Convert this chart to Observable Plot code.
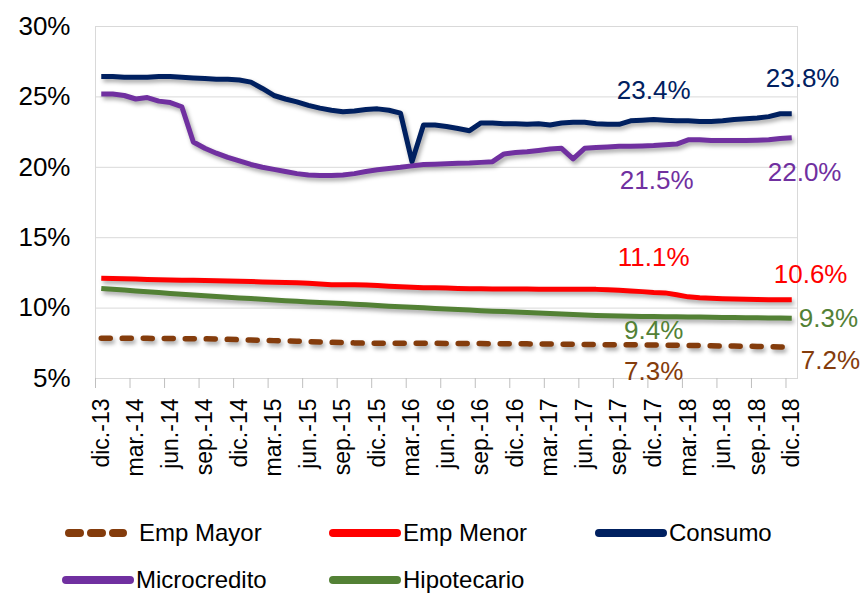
<!DOCTYPE html>
<html><head><meta charset="utf-8">
<script src="https://cdn.jsdelivr.net/npm/d3@7"></script>
<script src="https://cdn.jsdelivr.net/npm/@observablehq/plot@0.6"></script>
<style>
body{margin:0;background:#fff;font-family:"Liberation Sans",Arial,sans-serif;}
#wrap{position:relative;width:862px;height:595px;overflow:hidden;}
.shadow{filter:drop-shadow(2px 3px 2px rgba(0,0,0,0.35));}
#legend{position:absolute;left:65px;top:509px;display:grid;grid-template-columns:267px 266px auto;}
.item{display:flex;align-items:center;height:47px;font-size:24px;color:#000;}
.item svg{margin-right:5px;overflow:visible}
</style></head><body><div id="wrap"><div id="chart"></div><div id="legend"></div></div>
<script>
// Category tick labels (every 3 months, dic.-13 .. dic.-18)
const tickLabels = ["dic.-13","mar.-14","jun.-14","sep.-14","dic.-14","mar.-15","jun.-15","sep.-15","dic.-15","mar.-16","jun.-16","sep.-16","dic.-16","mar.-17","jun.-17","sep.-17","dic.-17","mar.-18","jun.-18","sep.-18","dic.-18"];
const yTicks = [5,10,15,20,25,30];

const seriesNames = ["Emp Mayor","Emp Menor","Consumo","Microcredito","Hipotecario"];
const seriesColors = ["#843C0C","#FF0000","#002060","#7030A0","#538135"];

// Monthly values (%), dic.-13 .. dic.-18 (61 months)
const empMayor = [7.86,7.86,7.85,7.85,7.85,7.84,7.84,7.83,7.83,7.82,7.80,7.78,7.76,7.73,7.71,7.69,7.67,7.65,7.62,7.60,7.57,7.55,7.53,7.51,7.51,7.51,7.50,7.50,7.50,7.50,7.49,7.49,7.48,7.48,7.47,7.47,7.46,7.46,7.45,7.45,7.44,7.43,7.42,7.41,7.40,7.40,7.39,7.39,7.38,7.37,7.36,7.35,7.34,7.32,7.31,7.30,7.29,7.28,7.26,7.24,7.22];
const empMenor = [12.12,12.10,12.08,12.06,12.04,12.02,12.00,11.98,11.97,11.96,11.95,11.93,11.91,11.89,11.86,11.84,11.82,11.80,11.77,11.72,11.66,11.65,11.65,11.64,11.60,11.56,11.52,11.48,11.45,11.44,11.42,11.40,11.38,11.37,11.36,11.35,11.35,11.35,11.34,11.33,11.33,11.33,11.33,11.33,11.30,11.26,11.22,11.17,11.10,11.08,10.95,10.80,10.73,10.70,10.67,10.64,10.62,10.61,10.60,10.60,10.60];
const consumo = [26.45,26.45,26.40,26.40,26.40,26.45,26.45,26.40,26.35,26.30,26.25,26.25,26.20,26.05,25.60,25.10,24.85,24.65,24.40,24.20,24.05,23.95,24.00,24.10,24.15,24.05,23.85,20.40,23.00,23.00,22.90,22.75,22.60,23.15,23.15,23.10,23.10,23.05,23.10,23.00,23.15,23.20,23.20,23.10,23.05,23.05,23.30,23.35,23.40,23.35,23.30,23.30,23.25,23.25,23.30,23.40,23.45,23.50,23.60,23.80,23.80];
const microcredito = [25.20,25.20,25.10,24.85,24.95,24.70,24.60,24.30,21.80,21.35,21.00,20.70,20.45,20.20,20.00,19.85,19.70,19.55,19.45,19.42,19.42,19.45,19.55,19.70,19.82,19.92,20.00,20.10,20.20,20.22,20.25,20.28,20.30,20.35,20.40,20.95,21.05,21.10,21.20,21.30,21.35,20.60,21.35,21.40,21.45,21.50,21.50,21.52,21.55,21.60,21.65,21.95,21.95,21.90,21.90,21.90,21.90,21.92,21.95,22.05,22.10];
const hipotecario = [11.40,11.34,11.28,11.22,11.16,11.10,11.04,10.98,10.93,10.88,10.83,10.77,10.72,10.68,10.63,10.58,10.53,10.48,10.44,10.40,10.36,10.32,10.27,10.23,10.18,10.14,10.10,10.06,10.02,9.98,9.94,9.90,9.86,9.82,9.78,9.75,9.72,9.69,9.66,9.62,9.58,9.55,9.51,9.48,9.46,9.44,9.42,9.41,9.40,9.39,9.38,9.37,9.36,9.35,9.34,9.33,9.32,9.31,9.30,9.29,9.28];
const seriesValues = [empMayor, empMenor, consumo, microcredito, hipotecario];

// Annotated labels: [series index, month index, text]
const annotSeries = [2,2,3,3,1,1,4,4,0,0];
const annotMonth  = [48,60,48,60,48,60,48,60,48,60];
const annotText   = ["23.4%","23.8%","21.5%","22.0%","11.1%","10.6%","9.4%","9.3%","7.3%","7.2%"];

const n = seriesValues[0].length;
const tickIdx = tickLabels.map((_, k) => k * 3);
const tickBounds = tickIdx.map(i => i - 0.5);

const rows = seriesNames.flatMap((name, k) => seriesValues[k].map((v, i) => ({series: name, i, v})));
const notes = annotText.map((t, k) => ({i: annotMonth[k], v: seriesValues[annotSeries[k]][annotMonth[k]], t, c: seriesColors[annotSeries[k]]}));

// label placement offsets (px) for each annotation
const offs = [
  {dx:0, dy:-29, a:"middle"}, {dx:-26, dy:-35, a:"start"},
  {dx:3, dy:35, a:"middle"},  {dx:-24, dy:35, a:"start"},
  {dx:0, dy:-35, a:"middle"}, {dx:-18, dy:-25, a:"start"},
  {dx:0, dy:14, a:"middle"},  {dx:7, dy:0, a:"start"},
  {dx:0, dy:27, a:"middle"},  {dx:9, dy:13, a:"start"}
];

const lineMarks = seriesNames.map((name, k) => Plot.line(rows.filter(d => d.series === name), {
  x: "i", y: "v", stroke: seriesColors[k],
  strokeWidth: k === 0 ? 5.5 : 5,
  strokeDasharray: k === 0 ? "9,12" : null,
  strokeLinecap: k === 0 ? "round" : "butt",
  strokeLinejoin: "round",
  className: "shadow"
}));

const noteMarks = notes.map((d, k) => Plot.text([d], {
  x: "i", y: "v", text: "t", fill: d.c, fontSize: 26,
  dx: offs[k].dx, dy: offs[k].dy, textAnchor: offs[k].a
}));

const chart = Plot.plot({
  width: 862, height: 505,
  marginLeft: 95, marginRight: 65, marginTop: 26, marginBottom: 127,
  style: {fontFamily: '"Liberation Sans", Arial, sans-serif', background: "#fff"},
  x: {domain: [-0.5, n - 0.5], axis: null},
  y: {domain: [5, 30], axis: null},
  marks: [
    Plot.gridY(yTicks, {stroke: "#d9d9d9", strokeOpacity: 1}),
    Plot.frame({stroke: "#d9d9d9"}),
    Plot.axisX(tickBounds, {tickSize: 10, tickFormat: () => "", stroke: "#bfbfbf", label: null}),
    Plot.axisX(tickIdx, {tickSize: 0, tickPadding: 20, tickRotate: -90, tickFormat: i => tickLabels[i / 3], fontSize: 23, fill: "#000", label: null}),
    Plot.axisY(yTicks, {tickSize: 0, tickPadding: 25, tickFormat: d => d + "%", fontSize: 26, fill: "#000", label: null}),
    ...lineMarks,
    ...noteMarks
  ]
});
document.getElementById("chart").appendChild(chart);

// Legend
const legend = d3.select("#legend");
seriesNames.forEach((name, k) => {
  const item = legend.append("div").attr("class", "item");
  const svg = item.append("svg").attr("width", 66).attr("height", 10);
  svg.append("line").attr("x1", k === 0 ? 4 : 1).attr("x2", k === 0 ? 58 : 65).attr("y1", 5).attr("y2", 5)
    .attr("stroke", seriesColors[k]).attr("stroke-width", 8)
    .attr("stroke-linecap", "round")
    .attr("stroke-dasharray", k === 0 ? "11,11" : null);
  if (k === 0) item.select("svg").style("margin-right", "8px");
  item.append("span").text(name);
});
</script></body></html>
